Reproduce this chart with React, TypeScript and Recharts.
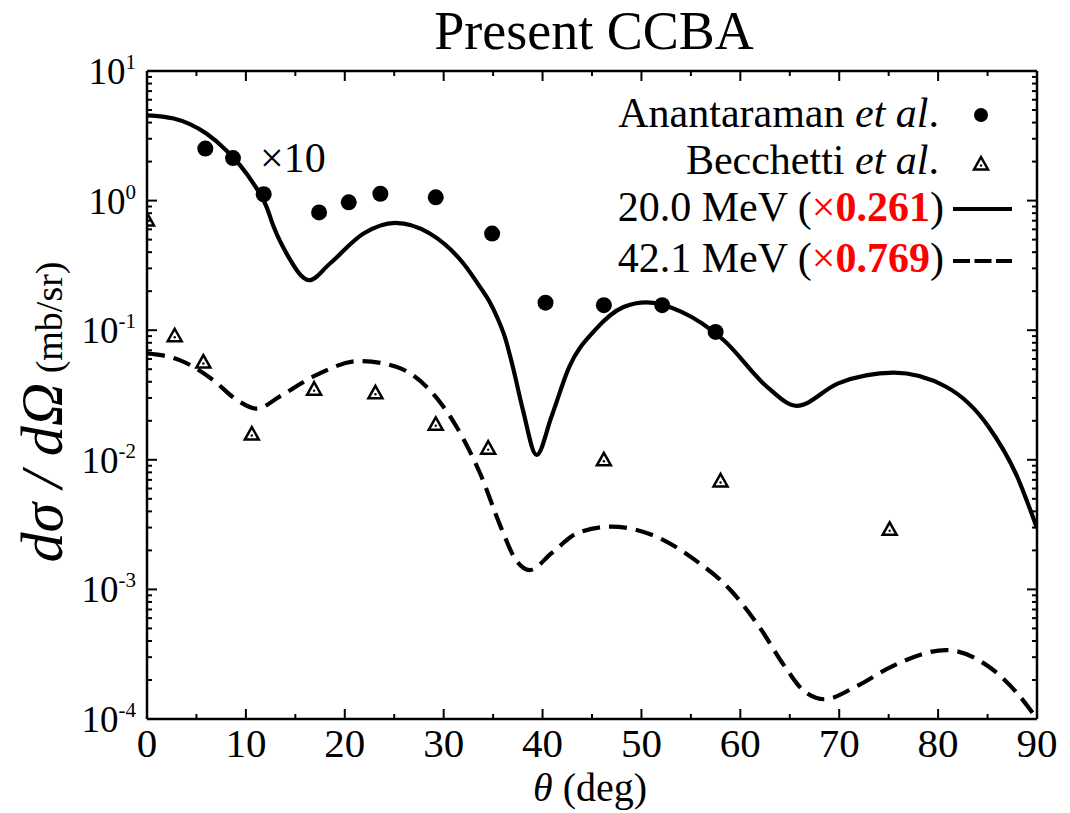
import React from 'react';
import { ComposedChart, Line, Scatter, XAxis, YAxis } from 'recharts';

const FONT = '"Liberation Serif", "Times New Roman", serif';

// Anantaraman et al. (x10)
const anaTheta = [5.9, 8.7, 11.8, 17.4, 20.4, 23.6, 29.2, 34.9, 40.3, 46.2, 52.1, 57.5];
const anaSigma = [2.52, 2.13, 1.12, 0.81, 0.97, 1.13, 1.06, 0.557, 0.163, 0.156, 0.156, 0.097];

// Becchetti et al.
const becTheta = [0, 2.8, 5.7, 10.6, 16.9, 23.1, 29.2, 34.5, 46.2, 58.0, 75.1];
const becSigma = [0.71, 0.0906, 0.0568, 0.0158, 0.0351, 0.0329, 0.0188, 0.0123, 0.01, 0.00687, 0.00291];

// 20.0 MeV calculation
const solidTheta = [0, 2.7, 6.0, 8.0, 9.4, 10.75, 12.1, 12.8, 14.5, 15.5, 16.4, 18.5, 21.9, 25.1, 28.6, 32.0, 33.7, 34.6, 35.4, 36.2, 37.0, 38.0, 39.4, 40.9, 42.7, 45.3, 48.2, 50.5, 54.0, 58.3, 62.7, 65.7, 69.9, 75.5, 80.8, 85.1, 88.0, 90];
const solidSigma = [4.55, 4.3, 3.29, 2.45, 1.88, 1.36, 0.89, 0.63, 0.347, 0.268, 0.243, 0.327, 0.557, 0.673, 0.557, 0.327, 0.214, 0.168, 0.126, 0.088, 0.052, 0.0245, 0.0109, 0.0215, 0.0522, 0.1, 0.151, 0.164, 0.139, 0.084, 0.0366, 0.0261, 0.0389, 0.047, 0.0366, 0.018, 0.0074, 0.00296];

// 42.1 MeV calculation
const dashedTheta = [0, 3.3, 6.7, 9.1, 11.1, 13.4, 16.8, 21.5, 25.2, 28.6, 31.3, 33.7, 35.8, 37.3, 38.7, 40.9, 43.5, 46.9, 51.1, 55.4, 59.0, 61.9, 64.5, 66.3, 68.5, 71.7, 75.3, 80.8, 85.1, 88.0, 90];
const dashedSigma = [0.0662, 0.0588, 0.0412, 0.0289, 0.0248, 0.0307, 0.0438, 0.0578, 0.0522, 0.0345, 0.018, 0.0078, 0.003, 0.00169, 0.00141, 0.0019, 0.00271, 0.00305, 0.00263, 0.00169, 0.00099, 0.000516, 0.000254, 0.000168, 0.000142, 0.000178, 0.000254, 0.00034, 0.000254, 0.000158, 0.0001];

const xMajor = [0, 10, 20, 30, 40, 50, 60, 70, 80, 90];
const xMinor = [5, 15, 25, 35, 45, 55, 65, 75, 85];
const yMajor = [1e-4, 1e-3, 1e-2, 1e-1, 1, 10];
const yMajorExp = ['-4', '-3', '-2', '-1', '0', '1'];

const zip = (xs: number[], ys: number[]) => xs.map((x, i) => ({ x, y: ys[i] }));

const anaData = zip(anaTheta, anaSigma);
const becData = zip(becTheta, becSigma);
const solidData = zip(solidTheta, solidSigma);
const dashedData = zip(dashedTheta, dashedSigma);

const yTicks: number[] = [];
yMajor.forEach((m, i) => {
  yTicks.push(m);
  if (i < yMajor.length - 1) for (let k = 2; k <= 9; k++) yTicks.push(+(m * k).toPrecision(3));
});
const xTicks = [...xMajor, ...xMinor].sort((a, b) => a - b);

const majorIndex = (v: number) => yMajor.findIndex((m) => Math.abs(m - v) / m < 1e-6);

const W = 1070;
const H = 813;

const LeftTick = (props: any) => {
  const { x, y, payload } = props;
  const idx = majorIndex(payload.value);
  const major = idx >= 0;
  return (
    <g>
      <line x1={x} x2={x + (major ? 10 : 5)} y1={y} y2={y} stroke="#000" strokeWidth={2} />
      {major && (
        <text x={x - 11} y={y + 13} textAnchor="end" fontFamily={FONT} fontSize={37} fill="#000">
          10
          <tspan fontSize={21} dy={-15}>{yMajorExp[idx]}</tspan>
        </text>
      )}
    </g>
  );
};

const RightTick = (props: any) => {
  const { x, y, payload } = props;
  const major = majorIndex(payload.value) >= 0;
  return <line x1={x} x2={x - (major ? 10 : 5)} y1={y} y2={y} stroke="#000" strokeWidth={2} />;
};

const BottomTick = (props: any) => {
  const { x, y, payload } = props;
  const major = xMajor.includes(payload.value);
  return (
    <g>
      <line x1={x} x2={x} y1={y} y2={y - (major ? 10 : 5)} stroke="#000" strokeWidth={2} />
      {major && (
        <text x={x} y={y + 38} textAnchor="middle" fontFamily={FONT} fontSize={41} fill="#000">
          {payload.value}
        </text>
      )}
    </g>
  );
};

const TopTick = (props: any) => {
  const { x, y, payload } = props;
  const major = xMajor.includes(payload.value);
  return <line x1={x} x2={x} y1={y} y2={y + (major ? 10 : 5)} stroke="#000" strokeWidth={2} />;
};

const Dot = (props: any) => <circle cx={props.cx} cy={props.cy} r={8} fill="#000" />;

const Tri = (props: any) => {
  const { cx, cy } = props;
  return (
    <g>
      <path
        d={`M${cx},${cy - 7} L${cx + 7},${cy + 5.5} L${cx - 7},${cy + 5.5} Z`}
        fill="none"
        stroke="#000"
        strokeWidth={2.5}
      />
      <circle cx={cx} cy={cy + 1.5} r={1.2} fill="#000" />
    </g>
  );
};

const axisLine = { stroke: '#000', strokeWidth: 2.5 };

export default function App() {
  return (
    <div style={{ position: 'absolute', left: 0, top: 0, width: W, height: H, background: '#fff' }}>
      <ComposedChart width={W} height={H} margin={{ top: 0, right: 0, bottom: 0, left: 0 }}>
        <XAxis
          dataKey="x"
          type="number"
          domain={[0, 90]}
          ticks={xTicks}
          interval={0}
          allowDataOverflow
          height={94}
          axisLine={axisLine}
          tickLine={false}
          tickSize={0}
          tickMargin={0}
          tick={<BottomTick />}
        />
        <XAxis
          xAxisId="top"
          orientation="top"
          dataKey="x"
          type="number"
          domain={[0, 90]}
          ticks={xTicks}
          interval={0}
          allowDataOverflow
          height={71}
          axisLine={axisLine}
          tickLine={false}
          tickSize={0}
          tickMargin={0}
          tick={<TopTick />}
        />
        <YAxis
          type="number"
          scale="log"
          domain={[1e-4, 10]}
          ticks={yTicks}
          interval={0}
          allowDataOverflow
          width={147}
          axisLine={axisLine}
          tickLine={false}
          tickSize={0}
          tickMargin={0}
          tick={<LeftTick />}
        />
        <YAxis
          yAxisId="right"
          orientation="right"
          type="number"
          scale="log"
          domain={[1e-4, 10]}
          ticks={yTicks}
          interval={0}
          allowDataOverflow
          width={33}
          axisLine={axisLine}
          tickLine={false}
          tickSize={0}
          tickMargin={0}
          tick={<RightTick />}
        />
        <Line
          data={solidData}
          dataKey="y"
          type="monotone"
          stroke="#000"
          strokeWidth={4.2}
          dot={false}
          activeDot={false}
          isAnimationActive={false}
        />
        <Line
          data={dashedData}
          dataKey="y"
          type="monotone"
          stroke="#000"
          strokeWidth={4.2}
          strokeDasharray="18 9"
          dot={false}
          activeDot={false}
          isAnimationActive={false}
        />
        <Scatter data={anaData} dataKey="y" shape={<Dot />} isAnimationActive={false} />
        <Scatter data={becData} dataKey="y" shape={<Tri />} isAnimationActive={false} />
      </ComposedChart>
      <svg
        width={W}
        height={H}
        style={{ position: 'absolute', left: 0, top: 0, pointerEvents: 'none' }}
        fontFamily={FONT}
      >
        <text x={594} y={49} textAnchor="middle" fontSize={54} fill="#000">
          Present CCBA
        </text>
        <text x={260} y={172} fontSize={42} fill="#000">
          ×10
        </text>
        <text x={590} y={801} textAnchor="middle" fontSize={40} fill="#000">
          <tspan fontStyle="italic">θ</tspan> (deg)
        </text>
        <g transform="translate(62,412) rotate(-90)">
          <text x={0} y={0} textAnchor="middle" fill="#000">
            <tspan fontSize={60} fontStyle="italic">dσ / dΩ</tspan>
            <tspan fontSize={38}> (mb/sr)</tspan>
          </text>
        </g>
        <g fontSize={42} fill="#000" textAnchor="end">
          <text x={939} y={127}>
            Anantaraman <tspan fontStyle="italic">et al</tspan>.
          </text>
          <text x={939} y={174}>
            Becchetti <tspan fontStyle="italic">et al</tspan>.
          </text>
          <text x={944} y={221}>
            20.0 MeV (<tspan fill="#ff0000">×</tspan>
            <tspan fill="#ff0000" fontWeight="bold">0.261</tspan>)
          </text>
          <text x={944} y={272}>
            42.1 MeV (<tspan fill="#ff0000">×</tspan>
            <tspan fill="#ff0000" fontWeight="bold">0.769</tspan>)
          </text>
        </g>
        <circle cx={981} cy={115} r={7} fill="#000" />
        <Tri cx={981} cy={164} />
        <line x1={953} x2={1012} y1={209} y2={209} stroke="#000" strokeWidth={4} />
        <line x1={953} x2={1012} y1={261} y2={261} stroke="#000" strokeWidth={4} strokeDasharray="17 4.5" />
      </svg>
    </div>
  );
}
